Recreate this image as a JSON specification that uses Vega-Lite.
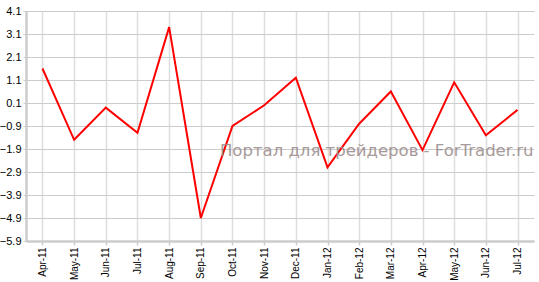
{
  "$schema": "https://vega.github.io/schema/vega-lite/v6.json",
  "autosize": "none",
  "width": 508,
  "height": 230,
  "padding": {"left": 26, "top": 11, "right": 5, "bottom": 41},
  "background": "white",
  "config": {"view": {"stroke": null}},
  "data": {"values": [
    {"month": "Apr-11", "value": 1.6},
    {"month": "May-11", "value": -1.5},
    {"month": "Jun-11", "value": -0.1},
    {"month": "Jul-11", "value": -1.2},
    {"month": "Aug-11", "value": 3.4},
    {"month": "Sep-11", "value": -4.9},
    {"month": "Oct-11", "value": -0.9},
    {"month": "Nov-11", "value": 0.0},
    {"month": "Dec-11", "value": 1.2},
    {"month": "Jan-12", "value": -2.7},
    {"month": "Feb-12", "value": -0.8},
    {"month": "Mar-12", "value": 0.6},
    {"month": "Apr-12", "value": -1.95},
    {"month": "May-12", "value": 1.0},
    {"month": "Jun-12", "value": -1.3},
    {"month": "Jul-12", "value": -0.2}
  ]},
  "layer": [
    {
      "mark": {"type": "line", "color": "#ff0000", "strokeWidth": 2},
      "encoding": {
        "x": {
          "field": "month", "type": "ordinal", "sort": null,
          "scale": {"type": "point", "padding": 0.52},
          "axis": {
            "title": null, "labelAngle": -90, "labelFont": "Liberation Sans", "labelFontSize": 10,
            "labelColor": "#000000", "domainColor": "#cccccc", "domainWidth": 2.5,
            "tickColor": "#cccccc", "tickSize": 4, "tickWidth": 1.5, "labelPadding": 2,
            "labelOverlap": false,
            "grid": true, "gridColor": "#dddddd", "gridWidth": 1.5
          }
        },
        "y": {
          "field": "value", "type": "quantitative",
          "scale": {"domain": [-5.9, 4.1], "nice": false, "zero": false},
          "axis": {
            "title": null, "values": [-5.9, -4.9, -3.9, -2.9, -1.9, -0.9, 0.1, 1.1, 2.1, 3.1, 4.1],
            "tickCount": 20,
            "format": ".1f", "labelFont": "Liberation Sans", "labelFontSize": 11, "labelColor": "#000000",
            "labelOverlap": false, "labelBound": false, "labelFlush": false,
            "domainColor": "#cccccc", "domainWidth": 2.5, "tickColor": "#cccccc", "tickSize": 3,
            "labelPadding": 2, "grid": true, "gridColor": "#cccccc", "gridWidth": 1
          }
        }
      }
    },
    {
      "data": {"values": [{"label": "Портал для трейдеров - ForTrader.ru", "month": "Jul-12", "value": -2.0}]},
      "mark": {"type": "text", "align": "right", "baseline": "middle", "dx": 16, "font": "DejaVu Sans", "fontSize": 16.5, "color": "#9e9090", "opacity": 0.9},
      "encoding": {
        "x": {"field": "month", "type": "ordinal", "sort": null},
        "y": {"field": "value", "type": "quantitative"},
        "text": {"field": "label"}
      }
    }
  ]
}
